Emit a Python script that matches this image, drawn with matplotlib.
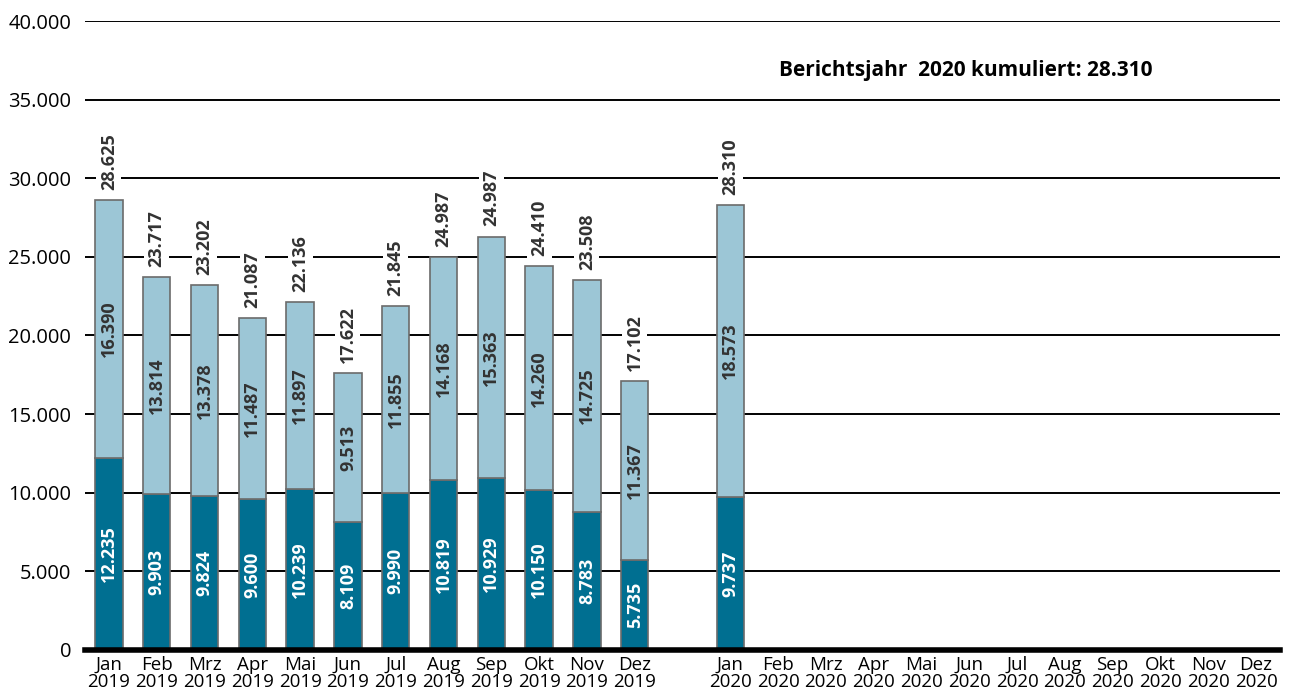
import matplotlib.pyplot as plt
import numpy as np

plt.rcParams['font.family'] = ['Open Sans', 'DejaVu Sans']

months = ['Jan', 'Feb', 'Mrz', 'Apr', 'Mai', 'Jun', 'Jul', 'Aug', 'Sep', 'Okt', 'Nov', 'Dez']
lower_2019 = [12235, 9903, 9824, 9600, 10239, 8109, 9990, 10819, 10929, 10150, 8783, 5735]
upper_2019 = [16390, 13814, 13378, 11487, 11897, 9513, 11855, 14168, 15363, 14260, 14725, 11367]
total_2019 = ['28.625', '23.717', '23.202', '21.087', '22.136', '17.622', '21.845', '24.987',
              '24.987', '24.410', '23.508', '17.102']
lower_2020 = [9737]
upper_2020 = [18573]
total_2020 = ['28.310']
cumulated_2020 = '28.310'

dark = '#006f91'
light = '#9cc6d6'
edge = '#6b6b6b'


def fmt(v):
    return f'{v:,}'.replace(',', '.')


x2019 = np.arange(12)
x2020 = np.arange(13, 25)

fig = plt.figure(figsize=(12.9, 6.98), dpi=100)
ax = fig.add_axes([0.0659, 0.0688, 0.9263, 0.9011])

lows = lower_2019 + lower_2020
ups = upper_2019 + upper_2020
tots = total_2019 + total_2020
xs = list(x2019) + list(x2020[:len(lower_2020)])

ax.bar(xs, lows, width=0.57, color=dark, edgecolor=edge, linewidth=1.2, zorder=3)
ax.bar(xs, ups, bottom=lows, width=0.57, color=light, edgecolor=edge, linewidth=1.2, zorder=3)

for x, lo, up, t in zip(xs, lows, ups, tots):
    ax.text(x, lo / 2, fmt(lo), rotation=90, ha='center', va='center',
            color='white', fontsize=13, fontweight='bold', zorder=4)
    ax.text(x, lo + up / 2, fmt(up), rotation=90, ha='center', va='center',
            color='#333333', fontsize=13, fontweight='bold', zorder=4)
    ax.text(x, lo + up + 650, t, rotation=90, ha='center', va='bottom',
            color='#333333', fontsize=13, fontweight='bold', zorder=4,
            bbox=dict(facecolor='white', edgecolor='none', pad=2.5))

ax.text(0.581, 0.922, 'Berichtsjahr  2020 kumuliert: ' + cumulated_2020,
        transform=ax.transAxes, fontsize=15, fontweight='bold', color='black',
        ha='left', va='center')

ax.set_ylim(0, 40000)
ax.set_xlim(-0.5, 24.5)
yt = np.arange(0, 40001, 5000)
ax.set_yticks(yt)
ax.set_yticklabels([fmt(v) for v in yt], fontsize=14.5)
ax.tick_params(axis='y', length=0, pad=10)
for v in yt[1:]:
    ax.axhline(v, color='black', linewidth=1.4, zorder=1)

ax.set_xticks(list(x2019) + list(x2020))
ax.set_xticklabels([f'{m}\n2019' for m in months] + [f'{m}\n2020' for m in months],
                   fontsize=13.5, linespacing=0.95)
ax.tick_params(axis='x', length=0, pad=4)

for s in ['top', 'right', 'left']:
    ax.spines[s].set_visible(False)
ax.spines['bottom'].set_linewidth(4)
ax.spines['bottom'].set_zorder(5)

plt.savefig('out.png', dpi=100)
